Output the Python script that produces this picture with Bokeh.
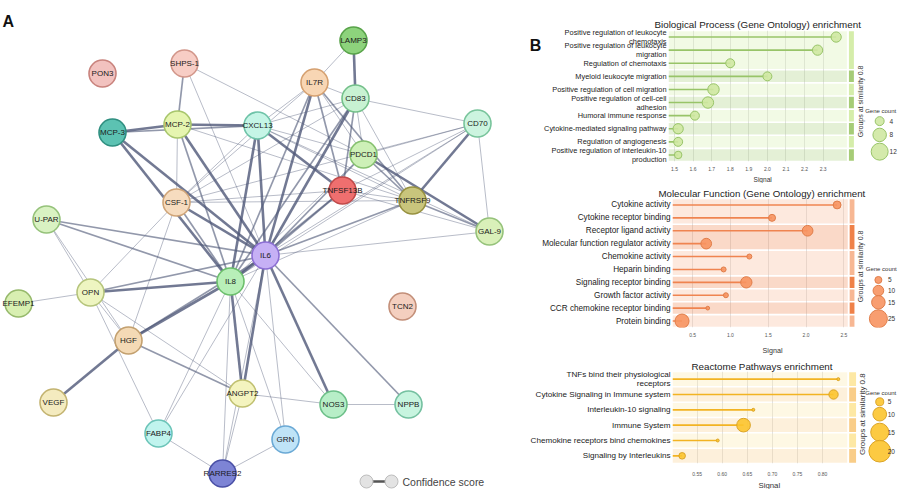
from math import pi, sqrt
from bokeh.plotting import figure
from bokeh.models import Range1d, FactorRange, FixedTicker, Label, PrintfTickFormatter, Title
from bokeh.layouts import row, column
from bokeh.embed import file_html
from bokeh.resources import INLINE
from bokeh.core.properties import value

FONT = "Liberation Sans"

# ---------------- Panel A: interaction network ----------------
node_names = ["PON3", "SHPS-1", "MCP-2", "MCP-3", "CXCL13", "CSF-1", "U-PAR", "LAMP3", "IL7R",
              "CD83", "CD70", "PDCD1", "TNFSF13B", "TNFRSF9", "GAL-9", "IL6", "IL8", "OPN",
              "EFEMP1", "HGF", "VEGF", "ANGPT2", "FABP4", "RARRES2", "GRN", "TCN2", "NOS3", "NPPB"]
node_x = [102, 184, 177, 112, 257, 176, 46, 353, 314, 355, 477, 363, 342, 412, 489, 265, 230, 90,
          18, 128, 53, 242, 158, 222, 285, 402, 333, 408]
node_y = [73, 63, 124, 132, 125, 202, 219, 40, 82, 98, 123, 154, 190, 200, 231, 255, 281, 292,
          303, 340, 402, 393, 433, 473, 439, 306, 404, 404]
node_fill = ["#f2c2bf", "#f7cdc5", "#e6f5b0", "#5cc2b2", "#c5f5e6", "#f6dcbf", "#d9f2c2", "#8dd37c",
             "#f8d6b4", "#c8f2d2", "#ccf4df", "#cdf0b7", "#ef6f6f", "#c9c57c", "#d9f0b9", "#c6b0f5",
             "#b8efb8", "#eef5c1", "#d8efb1", "#f4dab5", "#f4ebbf", "#f4f4bf", "#c0f4ee", "#7d84d5",
             "#bfe3f7", "#f4cfbf", "#b7eec7", "#c7f4df"]
node_line = ["#c9837d", "#d2968a", "#a8c66c", "#2f8f80", "#6ec3a8", "#cfa477", "#95c27a", "#58a349",
             "#d5a070", "#74c08a", "#78c49b", "#86c16f", "#c04a4a", "#979140", "#95c27a", "#8c6fd4",
             "#6cbf6c", "#b5c47b", "#96b96b", "#c3a06f", "#c3b370", "#c0c070", "#6bc4b8", "#4a50a6",
             "#6aa9d5", "#c38f79", "#6cbf88", "#74c0a0"]
# (source, target, confidence class 1=low .. 3=high)
edges = [
    ("SHPS-1", "MCP-2", 2), ("SHPS-1", "PDCD1", 1), ("SHPS-1", "IL6", 1),
    ("MCP-3", "MCP-2", 3), ("MCP-3", "CXCL13", 2), ("MCP-3", "IL6", 3), ("MCP-3", "IL8", 3),
    ("MCP-2", "CXCL13", 3), ("MCP-2", "CSF-1", 1), ("MCP-2", "IL6", 3), ("MCP-2", "IL8", 2),
    ("MCP-2", "TNFRSF9", 1),
    ("CXCL13", "IL6", 3), ("CXCL13", "IL8", 3), ("CXCL13", "TNFSF13B", 3), ("CXCL13", "PDCD1", 1),
    ("CXCL13", "TNFRSF9", 1), ("CXCL13", "CD83", 1), ("CXCL13", "CSF-1", 1), ("CXCL13", "GAL-9", 1),
    ("CXCL13", "IL7R", 1),
    ("CSF-1", "IL6", 3), ("CSF-1", "IL8", 2), ("CSF-1", "TNFSF13B", 1), ("CSF-1", "TNFRSF9", 1),
    ("CSF-1", "OPN", 1), ("CSF-1", "HGF", 1), ("CSF-1", "CD83", 1), ("CSF-1", "IL7R", 1),
    ("CSF-1", "CD70", 1),
    ("U-PAR", "IL6", 2), ("U-PAR", "IL8", 2), ("U-PAR", "OPN", 1), ("U-PAR", "HGF", 1),
    ("IL7R", "LAMP3", 1), ("IL7R", "CD83", 1), ("IL7R", "IL6", 3), ("IL7R", "IL8", 2),
    ("IL7R", "TNFSF13B", 2), ("IL7R", "TNFRSF9", 2), ("IL7R", "PDCD1", 1),
    ("LAMP3", "CD83", 3),
    ("CD83", "CD70", 1), ("CD83", "IL6", 3), ("CD83", "IL8", 2), ("CD83", "TNFSF13B", 2),
    ("CD83", "TNFRSF9", 1), ("CD83", "PDCD1", 1),
    ("CD70", "TNFRSF9", 3), ("CD70", "GAL-9", 1), ("CD70", "PDCD1", 1), ("CD70", "IL6", 1),
    ("CD70", "TNFSF13B", 1), ("CD70", "IL8", 1),
    ("PDCD1", "TNFRSF9", 2), ("PDCD1", "GAL-9", 3), ("PDCD1", "IL6", 2), ("PDCD1", "IL8", 1),
    ("TNFSF13B", "IL6", 2), ("TNFSF13B", "IL8", 2), ("TNFSF13B", "TNFRSF9", 1), ("TNFSF13B", "GAL-9", 1),
    ("TNFRSF9", "GAL-9", 2), ("TNFRSF9", "IL6", 2), ("TNFRSF9", "IL8", 1),
    ("GAL-9", "IL6", 1),
    ("IL6", "IL8", 3), ("IL6", "OPN", 2), ("IL6", "HGF", 2), ("IL6", "ANGPT2", 3), ("IL6", "NOS3", 3),
    ("IL6", "NPPB", 2), ("IL6", "FABP4", 1), ("IL6", "GRN", 1), ("IL6", "RARRES2", 1),
    ("IL8", "OPN", 3), ("IL8", "HGF", 3), ("IL8", "ANGPT2", 3), ("IL8", "NOS3", 1), ("IL8", "FABP4", 1),
    ("IL8", "RARRES2", 1), ("IL8", "GRN", 1),
    ("OPN", "EFEMP1", 1), ("OPN", "HGF", 1), ("OPN", "ANGPT2", 1), ("OPN", "FABP4", 1),
    ("HGF", "VEGF", 3), ("HGF", "ANGPT2", 2),
    ("ANGPT2", "NOS3", 1), ("ANGPT2", "RARRES2", 1),
    ("FABP4", "RARRES2", 1), ("RARRES2", "GRN", 1), ("NOS3", "NPPB", 1),
]

# ---------------- Panel B: enrichment data ----------------
bp_terms = ["Positive regulation of leukocyte\nchemotaxis", "Positive regulation of leukocyte\nmigration",
            "Regulation of chemotaxis", "Myeloid leukocyte migration", "Positive regulation of cell migration",
            "Positive regulation of cell-cell\nadhesion", "Humoral immune response",
            "Cytokine-mediated signaling pathway", "Regulation of angiogenesis",
            "Positive regulation of interleukin-10\nproduction"]
bp_signal = [2.37, 2.27, 1.80, 2.00, 1.71, 1.68, 1.61, 1.52, 1.52, 1.52]
bp_genes = [5, 5, 4, 4, 6, 6, 4, 5, 4, 3]
bp_groups = [1, 1, 1, 2, 3, 4, 5, 6, 7, 8]
bp_ticks = [1.5, 1.6, 1.7, 1.8, 1.9, 2.0, 2.1, 2.2, 2.3]
bp_legend = [4, 8, 12]

mf_terms = ["Cytokine activity", "Cytokine receptor binding", "Receptor ligand activity",
            "Molecular function regulator activity", "Chemokine activity", "Heparin binding",
            "Signaling receptor binding", "Growth factor activity", "CCR chemokine receptor binding",
            "Protein binding"]
mf_signal = [2.41, 1.55, 2.02, 0.68, 1.25, 0.91, 1.21, 0.94, 0.70, 0.36]
mf_genes = [6, 5, 10, 10, 3, 3, 11, 3, 2, 16]
mf_groups = [1, 1, 2, 2, 3, 3, 4, 5, 6, 7]
mf_ticks = [0.5, 1.0, 1.5, 2.0, 2.5]
mf_legend = [5, 10, 15, 25]

re_terms = ["TNFs bind their physiological\nreceptors", "Cytokine Signaling in Immune system",
            "Interleukin-10 signaling", "Immune System", "Chemokine receptors bind chemokines",
            "Signaling by Interleukins"]
re_signal = [0.8315, 0.822, 0.662, 0.6425, 0.591, 0.520]
re_genes = [2, 6, 2, 10, 2, 4]
re_groups = [1, 2, 3, 4, 5, 6]
re_ticks = [0.55, 0.60, 0.65, 0.70, 0.75, 0.80]
re_legend = [5, 10, 15, 20]

TOTAL_W, TOTAL_H = 898, 489
NET_W = 527

# ---------------- Panel A figure ----------------
net = figure(width=NET_W, height=TOTAL_H, x_range=Range1d(0, NET_W), y_range=Range1d(TOTAL_H, 0),
             output_backend="svg", toolbar_location=None, min_border=0,
             x_axis_location=None, y_axis_location=None, outline_line_color=None)
net.grid.visible = False
idx = {n: i for i, n in enumerate(node_names)}
lw_map = {1: 0.9, 2: 1.7, 3: 2.6}
la_map = {1: 0.45, 2: 0.62, 3: 0.8}
net.segment(x0=[node_x[idx[a]] for a, b, w in edges], y0=[node_y[idx[a]] for a, b, w in edges],
            x1=[node_x[idx[b]] for a, b, w in edges], y1=[node_y[idx[b]] for a, b, w in edges],
            line_color="#4f5878", line_width=[lw_map[w] for a, b, w in edges],
            line_alpha=[la_map[w] for a, b, w in edges])
net.scatter(node_x, node_y, size=27, fill_color=node_fill, line_color=node_line, line_width=1.6)
net.text(node_x, node_y, text=node_names, text_font=value(FONT), text_font_size="8px",
         text_align="center", text_baseline="middle", text_color="#1a1a1a")
# confidence legend
conf_x = [366, 391]
net.segment(x0=conf_x[0], y0=481, x1=conf_x[1], y1=481, line_color="#555555", line_width=2.5)
net.scatter(conf_x, [481, 481], size=13, fill_color="#e3e3e3", line_color="#bdbdbd", line_width=1)
net.add_layout(Label(x=402, y=481, text="Confidence score", text_font=FONT, text_font_size="10.5px",
                     text_color="#444444", text_baseline="middle"))
net.add_layout(Label(x=2, y=20.5, text="A", text_font=FONT, text_font_size="16px",
                     text_font_style="bold", text_color="#111111", text_baseline="middle"))

# panel letter B
B_W = 14
bfig = figure(width=B_W, height=183, x_range=Range1d(NET_W, NET_W + B_W), y_range=Range1d(183, 0),
              output_backend="svg", toolbar_location=None, min_border=0,
              x_axis_location=None, y_axis_location=None, outline_line_color=None)
bfig.grid.visible = False
bfig.add_layout(Label(x=535, y=20.5, text="B", text_font=FONT, text_font_size="16px",
                      text_font_style="bold", text_color="#111111", text_align="center",
                      text_baseline="middle"))


def make_panel(title, terms, signal, genes, groups, ticks, fmt, legend_counts, size_fn, colors, geo):
    n = len(terms)
    fig_left, top, height, tb, fh = geo["left"], geo["top"], geo["height"], geo["tb"], geo["fh"]
    fl, ppu, xl = geo["fl"], geo["ppu"], geo["xl"]
    width = TOTAL_W - fig_left
    xr = xl + (TOTAL_W - fl) / ppu
    ftop = top + tb

    def dx(px):
        return xl + (px - fl) / ppu

    def dy(py):
        return n - (py - ftop) * n / fh

    p = figure(width=width, height=height, x_range=Range1d(xl, xr),
               y_range=FactorRange(factors=terms[::-1], range_padding=0),
               output_backend="svg", toolbar_location=None,
               min_border_left=fl - fig_left, min_border_right=0,
               min_border_top=tb, min_border_bottom=height - tb - fh)
    p.outline_line_color = None
    p.ygrid.visible = False
    p.xgrid.grid_line_color = "#e2e2e2"
    p.xgrid.ticker = FixedTicker(ticks=ticks)

    # title (above) and axis caption (below)
    p.title.text = title
    p.title.align = "left"
    p.title.offset = geo["title_off"]
    p.title.standoff = geo["title_so"]
    p.title.text_font = FONT
    p.title.text_font_size = geo["title_fs"]
    p.title.text_font_style = "normal"
    p.title.text_color = "#222222"
    p.add_layout(Title(text="Signal", align="left", offset=geo["sig_off"], standoff=geo["sig_so"],
                       text_font=FONT, text_font_size=geo["sig_fs"], text_font_style="normal",
                       text_color="#333333"), "below")

    # group blocks
    gap = 1.6 * n / fh
    tops, bots, shades = [], [], []
    k = 0
    gi = 0
    while k < n:
        j = k
        while j + 1 < n and groups[j + 1] == groups[k]:
            j += 1
        tops.append(n - k - gap / 2)
        bots.append(n - j - 1 + gap / 2)
        shades.append(colors["light"] if gi % 2 == 0 else colors["dark"])
        gi += 1
        k = j + 1
    p.quad(left=xl, right=dx(geo["bg_end"]), top=tops, bottom=bots, fill_color=shades,
           fill_alpha=0.3, line_color=None)
    p.quad(left=dx(geo["strip"][0]), right=dx(geo["strip"][1]), top=tops, bottom=bots,
           fill_color=shades, line_color=None)

    # lollipops
    p.segment(x0=[xl] * n, y0=terms, x1=signal, y1=terms, line_color=colors["seg"], line_width=1.6)
    p.scatter(x=signal, y=terms, size=[size_fn(g) for g in genes], fill_color=colors["fill"],
              fill_alpha=0.9, line_color=colors["line"], line_width=1)

    # size legend
    lx, lys = geo["leg_x"], geo["leg_y"]
    p.scatter(x=[dx(lx)] * len(legend_counts), y=[dy(v) for v in lys],
              size=[size_fn(c) for c in legend_counts], fill_color=colors["fill"], fill_alpha=0.9,
              line_color=colors["line"], line_width=1)
    for c, yy in zip(legend_counts, lys):
        p.add_layout(Label(x=dx(geo["num_x"]), y=dy(yy), text=str(c), text_font=FONT,
                           text_font_size="6.5px", text_color="#333333", text_baseline="middle"))
    gx, gy = geo["gc"]
    p.add_layout(Label(x=dx(gx), y=dy(gy), text="Gene count", text_font=FONT, text_font_size="6px",
                       text_color="#333333", text_align="center", text_baseline="middle"))
    sx, sy = geo["grp"]
    p.add_layout(Label(x=dx(sx), y=dy(sy), text="Groups at similarity 0.8", text_font=FONT,
                       text_font_size=geo["grp_fs"], text_color="#333333", text_align="center",
                       text_baseline="middle", angle=pi / 2))

    # axes
    xa = p.xaxis[0]
    xa.ticker = FixedTicker(ticks=ticks)
    xa.formatter = PrintfTickFormatter(format=fmt)
    xa.axis_line_color = None
    xa.major_tick_line_color = None
    xa.minor_tick_line_color = None
    xa.major_tick_out = 0
    xa.major_tick_in = 0
    xa.major_label_standoff = geo["xstand"]
    xa.major_label_text_font = FONT
    xa.major_label_text_font_size = "5px"
    xa.major_label_text_color = "#555555"
    ya = p.yaxis[0]
    ya.axis_line_color = None
    ya.major_tick_line_color = None
    ya.minor_tick_line_color = None
    ya.major_tick_out = 0
    ya.major_tick_in = 0
    ya.major_label_standoff = 2
    ya.major_label_text_font = FONT
    ya.major_label_text_font_size = geo["lab"]
    ya.major_label_text_color = "#222222"
    ya.major_label_text_line_height = 1.0
    return p


bp = make_panel("Biological Process (Gene Ontology) enrichment", bp_terms, bp_signal, bp_genes, bp_groups,
                bp_ticks, "%.1f", bp_legend, lambda c: 5.48 * sqrt(c) - 2,
                dict(light="#d5edaa", dark="#a6cc76", seg="#98c468", fill="#cfe8a2", line="#98c468"),
                dict(left=NET_W + B_W, top=0, height=183, tb=30, fh=133, fl=666, ppu=187.5, xl=1.468,
                     bg_end=846, strip=(848, 853), leg_x=879, leg_y=[122, 136, 153], num_x=889,
                     gc=(880, 112), grp=(860, 102), grp_fs="7px", xstand=5, lab="7.4px",
                     title_off=-14, title_so=1, title_fs="9.8px",
                     sig_off=85, sig_so=1, sig_fs="6.6px"))
mf = make_panel("Molecular Function (Gene Ontology) enrichment", mf_terms, mf_signal, mf_genes, mf_groups,
                mf_ticks, "%.1f", mf_legend, lambda c: 3.98 * sqrt(c) - 1.9,
                dict(light="#f7b793", dark="#ef8148", seg="#ef8450", fill="#f79460", line="#e07d49"),
                dict(left=NET_W, top=183, height=175, tb=15, fh=133, fl=662, ppu=79.0, xl=0.2342,
                     bg_end=845, strip=(847, 852), leg_x=877, leg_y=[282, 293, 305, 322], num_x=887,
                     gc=(880, 271), grp=(858, 268), grp_fs="7px", xstand=5, lab="8.2px",
                     title_off=-14, title_so=0, title_fs="9.7px",
                     sig_off=90, sig_so=8, sig_fs="7.2px"))
re = make_panel("Reactome Pathways enrichment", re_terms, re_signal, re_genes, re_groups,
                re_ticks, "%.2f", re_legend, lambda c: 6.13 * sqrt(c) - 5.7,
                dict(light="#fde8a4", dark="#f9cd88", seg="#f2b322", fill="#fcc42e", line="#dba427"),
                dict(left=NET_W, top=358, height=131, tb=11, fh=97, fl=669, ppu=508.0, xl=0.50079,
                     bg_end=846, strip=(848, 855), leg_x=879, leg_y=[401, 414, 433, 453], num_x=887,
                     gc=(880, 392), grp=(862, 414), grp_fs="8px", xstand=8, lab="8.1px",
                     title_off=19, title_so=0, title_fs="9.8px",
                     sig_off=86, sig_so=0, sig_fs="7.8px"))

layout = row(net, column(row(bfig, bp, spacing=0), mf, re, spacing=0), spacing=0)
open("out.html", "w").write(file_html(layout, INLINE))
